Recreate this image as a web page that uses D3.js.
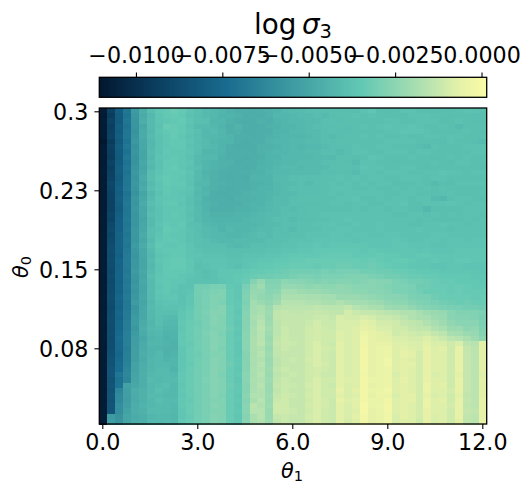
<!DOCTYPE html>
<html>
<head>
<meta charset="utf-8">
<script src="https://cdn.jsdelivr.net/npm/d3@7"></script>
<style>
body { margin: 0; background: #fff; }
text { font-family: "DejaVu Sans", sans-serif; fill: #000; }
.axis text { font-size: 22.2px; }
.axis path, .axis line { stroke: #000; stroke-width: 1.1; }
</style>
</head>
<body>
<div class="chart"></div>
<script>
var xTicks = [0, 3, 6, 9, 12];
var xLabels = ["0.0", "3.0", "6.0", "9.0", "12.0"];
var yTicks = [0.3, 0.225, 0.15, 0.075];
var yLabels = ["0.3", "0.23", "0.15", "0.08"];
var barTicks = [-0.01, -0.0075, -0.005, -0.0025, 0];
var barLabels = ["\u22120.0100", "\u22120.0075", "\u22120.0050", "\u22120.0025", "0.0000"];
var barDomain = [-0.01106, 0.00015];
var stopAt = [0, 0.15, 0.32, 0.5, 0.675, 0.83, 0.93, 1];
var stopColors = ["#02172f", "#0b3f60", "#186a8e", "#3e9ca2", "#62c8b4", "#aee0b0", "#e6f2a8", "#fbfba6"];

// log sigma_3, in units of 1e-4; top row first, theta_1 left to right
var sigmaRows = [
[-108,-93,-80,-70,-55,-47,-40,-36,-35,-33,-34,-37,-39,-41,-42,-43,-45,-46,-46,-47,-46,-45,-44,-42,-41,-41,-40,-40,-40,-39,-39,-40,-40,-38,-36,-39,-40,-39,-38,-38,-39,-39,-40,-39,-39,-39,-38,-38,-39],
[-109,-95,-81,-71,-56,-48,-42,-37,-35,-34,-35,-38,-40,-41,-42,-44,-44,-45,-47,-46,-47,-45,-43,-43,-42,-41,-41,-40,-41,-40,-39,-39,-38,-39,-38,-39,-39,-39,-40,-38,-38,-38,-39,-39,-40,-39,-39,-40,-39],
[-108,-92,-82,-70,-57,-47,-41,-37,-36,-35,-34,-37,-39,-40,-43,-43,-45,-46,-47,-47,-45,-46,-44,-43,-42,-42,-41,-41,-40,-39,-40,-39,-39,-39,-39,-39,-38,-38,-39,-39,-38,-38,-38,-40,-39,-38,-39,-40,-40],
[-109,-94,-80,-71,-57,-49,-41,-38,-33,-34,-35,-38,-41,-41,-42,-44,-46,-44,-46,-47,-47,-45,-45,-43,-43,-42,-41,-40,-40,-40,-39,-40,-39,-38,-39,-38,-37,-38,-38,-37,-38,-39,-39,-38,-39,-41,-39,-39,-39],
[-108,-93,-81,-70,-58,-48,-42,-37,-35,-34,-35,-37,-39,-42,-41,-43,-46,-45,-47,-47,-46,-46,-44,-44,-42,-42,-41,-41,-40,-39,-40,-40,-39,-39,-39,-39,-38,-38,-37,-37,-37,-38,-39,-39,-39,-39,-38,-39,-40],
[-109,-92,-80,-70,-57,-48,-41,-38,-36,-34,-36,-38,-40,-42,-42,-43,-44,-46,-46,-47,-46,-45,-44,-43,-43,-43,-42,-41,-40,-41,-40,-39,-39,-38,-39,-38,-39,-39,-38,-39,-39,-38,-38,-39,-38,-38,-39,-39,-39],
[-110,-95,-82,-71,-56,-49,-42,-38,-36,-35,-35,-37,-40,-41,-43,-44,-44,-46,-47,-46,-46,-44,-43,-43,-42,-42,-41,-41,-40,-40,-39,-39,-39,-39,-39,-39,-38,-38,-38,-38,-39,-39,-40,-40,-38,-39,-39,-40,-41],
[-109,-93,-80,-70,-58,-49,-42,-38,-36,-35,-35,-38,-40,-41,-42,-44,-46,-47,-47,-47,-45,-45,-44,-43,-42,-43,-42,-42,-41,-40,-40,-40,-38,-39,-39,-38,-38,-39,-39,-39,-40,-41,-38,-39,-39,-39,-38,-38,-38],
[-108,-94,-81,-72,-57,-50,-41,-38,-35,-36,-36,-37,-40,-43,-43,-44,-46,-46,-46,-47,-45,-44,-43,-43,-42,-42,-41,-41,-40,-40,-41,-40,-38,-38,-39,-39,-38,-38,-38,-39,-38,-38,-39,-39,-39,-39,-39,-38,-38],
[-109,-95,-82,-70,-58,-50,-42,-37,-36,-35,-36,-38,-41,-42,-42,-45,-46,-46,-47,-46,-46,-44,-44,-42,-42,-42,-42,-41,-41,-41,-39,-39,-40,-39,-37,-38,-39,-39,-39,-38,-39,-39,-40,-39,-38,-39,-38,-39,-39],
[-109,-92,-81,-71,-58,-49,-41,-38,-35,-35,-36,-37,-41,-43,-44,-45,-45,-47,-46,-46,-45,-44,-43,-42,-42,-41,-41,-41,-40,-40,-39,-40,-41,-38,-38,-39,-39,-40,-39,-39,-39,-39,-38,-39,-40,-38,-38,-39,-39],
[-108,-94,-80,-70,-57,-50,-42,-38,-35,-34,-36,-38,-40,-43,-44,-45,-46,-46,-47,-46,-44,-44,-42,-41,-41,-42,-41,-41,-41,-39,-39,-39,-40,-37,-38,-38,-39,-39,-38,-38,-39,-40,-39,-39,-39,-39,-39,-39,-40],
[-108,-93,-80,-71,-56,-49,-40,-37,-35,-35,-35,-37,-41,-44,-45,-46,-46,-46,-46,-45,-45,-43,-42,-42,-41,-41,-41,-41,-40,-40,-39,-40,-41,-38,-38,-39,-38,-38,-38,-39,-39,-38,-38,-37,-38,-38,-39,-38,-38],
[-109,-92,-81,-70,-57,-48,-40,-36,-34,-35,-36,-38,-41,-43,-45,-46,-47,-46,-47,-44,-44,-44,-41,-41,-40,-40,-40,-40,-39,-39,-38,-39,-38,-39,-38,-38,-39,-39,-38,-38,-38,-39,-38,-38,-39,-39,-39,-39,-39],
[-108,-90,-80,-70,-56,-49,-41,-37,-34,-35,-35,-38,-42,-42,-45,-45,-46,-46,-46,-45,-45,-44,-42,-41,-41,-40,-41,-39,-39,-38,-39,-38,-39,-38,-39,-38,-38,-40,-39,-39,-38,-39,-41,-39,-40,-38,-38,-38,-38],
[-109,-91,-79,-69,-57,-48,-40,-37,-35,-36,-36,-37,-41,-44,-45,-46,-47,-46,-46,-45,-44,-44,-42,-41,-40,-40,-40,-40,-39,-38,-38,-38,-39,-39,-38,-39,-39,-38,-39,-38,-39,-38,-39,-38,-39,-39,-39,-39,-39],
[-109,-92,-80,-71,-58,-50,-42,-38,-35,-36,-37,-38,-42,-43,-46,-47,-46,-46,-45,-44,-44,-43,-42,-41,-41,-40,-40,-40,-39,-38,-39,-38,-38,-38,-38,-38,-39,-39,-38,-38,-39,-39,-40,-39,-38,-39,-39,-39,-38],
[-108,-92,-79,-70,-56,-49,-41,-37,-36,-36,-36,-39,-41,-45,-46,-46,-47,-45,-45,-45,-44,-43,-41,-41,-40,-39,-39,-39,-39,-39,-38,-38,-37,-39,-39,-38,-39,-38,-38,-39,-38,-38,-41,-42,-39,-38,-38,-39,-39],
[-109,-93,-80,-69,-57,-48,-40,-37,-35,-35,-37,-39,-42,-44,-45,-46,-46,-46,-45,-44,-44,-42,-41,-41,-40,-40,-40,-40,-39,-38,-38,-39,-38,-38,-39,-39,-38,-38,-37,-39,-39,-38,-38,-38,-37,-38,-39,-38,-38],
[-109,-93,-81,-70,-56,-49,-41,-38,-36,-36,-36,-38,-41,-44,-46,-46,-46,-45,-45,-44,-43,-42,-41,-40,-41,-40,-39,-39,-39,-39,-39,-39,-38,-39,-38,-38,-39,-38,-38,-39,-40,-42,-39,-39,-39,-39,-38,-38,-38],
[-108,-91,-80,-70,-57,-49,-40,-38,-36,-35,-36,-39,-41,-43,-45,-45,-45,-44,-44,-43,-42,-41,-41,-40,-40,-40,-39,-39,-38,-38,-38,-38,-38,-38,-38,-38,-38,-39,-39,-38,-38,-39,-38,-39,-38,-39,-38,-38,-39],
[-108,-92,-79,-69,-57,-50,-41,-38,-36,-36,-36,-38,-41,-43,-44,-44,-44,-44,-43,-42,-42,-41,-40,-40,-41,-40,-40,-39,-39,-38,-38,-37,-38,-38,-38,-38,-38,-38,-38,-38,-39,-38,-39,-39,-39,-39,-38,-39,-38],
[-108,-90,-79,-70,-57,-49,-41,-37,-35,-36,-35,-39,-40,-42,-43,-44,-43,-43,-43,-43,-42,-41,-41,-40,-40,-39,-39,-38,-38,-37,-38,-38,-37,-38,-38,-37,-38,-38,-38,-39,-39,-38,-38,-37,-38,-38,-39,-38,-38],
[-109,-89,-79,-69,-56,-49,-40,-38,-34,-35,-36,-38,-40,-41,-42,-44,-42,-43,-43,-42,-41,-41,-40,-40,-41,-39,-39,-39,-38,-38,-37,-37,-38,-38,-38,-37,-38,-38,-38,-38,-37,-38,-38,-38,-39,-38,-38,-38,-38],
[-108,-90,-78,-70,-56,-48,-40,-37,-35,-36,-36,-38,-40,-41,-42,-42,-43,-43,-42,-41,-40,-41,-40,-40,-39,-39,-38,-38,-38,-37,-37,-38,-37,-37,-38,-38,-37,-37,-38,-38,-38,-38,-37,-37,-38,-38,-38,-38,-38],
[-108,-89,-78,-69,-56,-49,-41,-36,-35,-35,-36,-38,-39,-40,-41,-42,-42,-41,-41,-41,-41,-40,-40,-39,-38,-38,-38,-37,-37,-37,-37,-37,-38,-37,-37,-37,-37,-36,-37,-38,-38,-37,-37,-38,-37,-37,-38,-37,-37],
[-108,-88,-78,-70,-55,-48,-40,-35,-36,-36,-35,-37,-39,-40,-40,-40,-41,-42,-41,-40,-40,-40,-39,-38,-38,-37,-37,-36,-37,-36,-36,-36,-36,-36,-37,-37,-37,-36,-36,-37,-37,-37,-38,-38,-37,-37,-37,-37,-37],
[-108,-87,-78,-69,-56,-49,-41,-36,-35,-35,-35,-37,-38,-39,-39,-39,-40,-40,-40,-39,-39,-38,-38,-37,-37,-36,-36,-35,-35,-35,-35,-35,-35,-36,-35,-36,-36,-36,-36,-36,-37,-36,-37,-37,-37,-36,-36,-36,-36],
[-108,-88,-79,-68,-57,-49,-42,-37,-36,-35,-35,-37,-37,-38,-38,-38,-39,-39,-38,-38,-38,-37,-37,-36,-35,-35,-35,-35,-34,-34,-34,-34,-35,-35,-35,-34,-35,-35,-36,-36,-35,-35,-36,-36,-36,-36,-36,-36,-36],
[-108,-87,-77,-68,-56,-50,-41,-36,-35,-34,-34,-36,-38,-37,-37,-37,-38,-38,-37,-37,-36,-36,-35,-35,-34,-34,-33,-33,-33,-33,-33,-33,-33,-34,-33,-34,-35,-34,-34,-35,-36,-36,-35,-36,-36,-35,-35,-36,-36],
[-108,-88,-78,-68,-56,-50,-42,-37,-35,-34,-34,-36,-39,-38,-37,-37,-38,-39,-37,-36,-35,-35,-34,-34,-33,-33,-33,-34,-33,-33,-32,-32,-33,-33,-32,-33,-34,-35,-35,-36,-36,-36,-37,-37,-36,-36,-37,-37,-37],
[-108,-89,-77,-69,-55,-49,-41,-37,-35,-35,-35,-36,-38,-40,-38,-36,-36,-36,-35,-34,-34,-33,-33,-32,-31,-31,-31,-31,-30,-31,-30,-30,-30,-31,-31,-32,-32,-33,-33,-34,-35,-35,-35,-36,-36,-36,-36,-36,-37],
[-109,-88,-77,-68,-56,-50,-40,-36,-35,-35,-36,-37,-38,-39,-38,-36,-36,-35,-34,-33,-32,-32,-31,-31,-30,-29,-29,-30,-29,-29,-29,-28,-28,-28,-29,-30,-31,-31,-32,-33,-33,-34,-34,-35,-35,-35,-35,-36,-36],
[-109,-89,-78,-69,-57,-49,-41,-36,-35,-36,-36,-38,-38,-38,-38,-37,-36,-35,-33,-27,-23,-28,-28,-25,-26,-26,-27,-28,-27,-28,-27,-27,-28,-27,-26,-27,-27,-29,-30,-31,-31,-32,-33,-34,-34,-35,-35,-35,-36],
[-108,-88,-77,-68,-56,-50,-41,-37,-35,-36,-38,-38,-31,-31,-30,-30,-35,-36,-30,-24,-21,-27,-27,-23,-23,-24,-25,-24,-25,-25,-24,-25,-26,-26,-26,-27,-28,-29,-29,-30,-32,-32,-33,-33,-34,-33,-34,-35,-35],
[-109,-88,-78,-69,-57,-50,-41,-36,-35,-37,-38,-37,-31,-30,-29,-28,-34,-36,-29,-23,-23,-26,-25,-20,-20,-21,-22,-22,-23,-24,-24,-24,-25,-25,-26,-26,-27,-29,-29,-30,-31,-33,-33,-33,-34,-33,-34,-34,-34],
[-108,-87,-76,-68,-56,-49,-41,-37,-36,-36,-38,-36,-31,-30,-28,-28,-34,-36,-28,-22,-24,-25,-23,-18,-18,-18,-19,-19,-20,-20,-22,-22,-22,-23,-24,-25,-26,-26,-27,-29,-30,-30,-32,-33,-33,-33,-33,-34,-33],
[-108,-88,-77,-69,-55,-50,-42,-38,-37,-37,-38,-36,-31,-30,-28,-29,-34,-35,-29,-20,-22,-24,-21,-16,-16,-16,-17,-17,-18,-19,-17,-19,-20,-20,-21,-22,-24,-25,-25,-27,-28,-29,-30,-31,-32,-33,-32,-33,-33],
[-109,-89,-78,-69,-57,-49,-41,-39,-38,-38,-37,-35,-31,-30,-28,-27,-33,-35,-28,-20,-18,-22,-16,-15,-15,-15,-15,-14,-15,-15,-15,-13,-16,-17,-18,-19,-21,-22,-22,-24,-26,-27,-28,-29,-30,-30,-31,-31,-32],
[-108,-88,-76,-68,-56,-49,-42,-39,-39,-40,-36,-34,-31,-29,-27,-27,-33,-36,-27,-20,-18,-21,-14,-13,-14,-14,-13,-13,-13,-14,-14,-10,-12,-13,-13,-14,-15,-16,-17,-17,-19,-21,-22,-23,-26,-28,-28,-28,-29],
[-108,-87,-77,-68,-55,-49,-42,-40,-41,-41,-36,-34,-31,-30,-27,-28,-33,-35,-27,-19,-17,-22,-14,-13,-13,-13,-13,-12,-12,-13,-9,-10,-10,-9,-10,-12,-12,-13,-15,-17,-18,-19,-21,-22,-26,-27,-27,-28,-30],
[-108,-87,-76,-67,-55,-48,-43,-40,-42,-42,-35,-33,-32,-30,-27,-28,-33,-36,-27,-20,-16,-21,-15,-13,-13,-13,-12,-10,-12,-12,-9,-9,-9,-7,-8,-10,-10,-11,-13,-14,-15,-17,-19,-21,-24,-26,-26,-26,-29],
[-109,-88,-76,-67,-56,-47,-42,-41,-43,-43,-36,-33,-31,-30,-28,-28,-32,-35,-27,-19,-15,-20,-15,-12,-13,-13,-11,-10,-11,-12,-9,-9,-8,-6,-7,-9,-9,-11,-11,-13,-14,-14,-17,-18,-22,-22,-25,-24,-28],
[-108,-87,-75,-66,-55,-48,-43,-42,-44,-44,-35,-33,-31,-29,-27,-29,-33,-36,-26,-19,-16,-21,-15,-12,-13,-13,-11,-10,-11,-11,-8,-9,-8,-4,-6,-7,-8,-11,-10,-11,-12,-11,-13,-15,-19,-20,-22,-23,-27],
[-108,-88,-74,-66,-54,-49,-44,-43,-45,-44,-35,-33,-31,-30,-27,-28,-33,-35,-26,-18,-16,-22,-14,-12,-13,-13,-11,-10,-11,-11,-8,-9,-8,-3,-6,-7,-7,-9,-9,-10,-10,-8,-10,-12,-15,-16,-18,-21,-25],
[-109,-87,-75,-66,-54,-48,-43,-43,-44,-45,-35,-34,-31,-30,-27,-28,-33,-36,-26,-18,-15,-21,-13,-12,-12,-13,-11,-9,-11,-12,-7,-9,-8,-3,-6,-6,-6,-8,-8,-9,-9,-7,-9,-9,-11,-9,-15,-16,-7],
[-109,-87,-75,-67,-53,-48,-44,-44,-45,-45,-36,-33,-31,-30,-27,-29,-33,-36,-26,-18,-17,-22,-14,-12,-13,-13,-11,-9,-10,-11,-7,-9,-8,-2,-6,-5,-4,-8,-7,-8,-9,-6,-8,-7,-11,-6,-13,-15,-7],
[-108,-86,-76,-66,-53,-47,-44,-42,-45,-44,-36,-33,-32,-30,-28,-28,-33,-36,-27,-19,-16,-21,-14,-13,-13,-13,-11,-9,-11,-12,-7,-9,-8,-2,-6,-5,-4,-8,-6,-7,-10,-6,-8,-8,-11,-6,-13,-15,-7],
[-109,-85,-75,-66,-53,-48,-43,-42,-44,-43,-36,-33,-31,-30,-27,-28,-33,-35,-27,-18,-17,-22,-15,-13,-12,-13,-10,-9,-11,-12,-7,-9,-8,-2,-6,-5,-3,-8,-7,-8,-10,-6,-8,-8,-11,-6,-13,-15,-7],
[-108,-85,-74,-65,-52,-47,-43,-42,-42,-43,-36,-34,-31,-30,-27,-28,-32,-35,-27,-19,-16,-22,-15,-13,-13,-13,-11,-9,-10,-12,-7,-9,-8,-2,-6,-5,-3,-8,-7,-7,-10,-6,-8,-8,-11,-6,-13,-15,-7],
[-109,-84,-74,-64,-52,-47,-43,-41,-41,-44,-36,-33,-31,-30,-27,-28,-33,-36,-27,-18,-17,-21,-14,-12,-13,-13,-11,-10,-11,-12,-7,-9,-8,-2,-6,-5,-4,-8,-7,-8,-10,-6,-8,-8,-11,-6,-13,-15,-7],
[-108,-84,-70,-63,-51,-46,-42,-41,-41,-42,-35,-33,-31,-30,-27,-29,-33,-35,-26,-19,-16,-22,-15,-13,-12,-13,-11,-10,-12,-12,-7,-9,-8,-3,-6,-5,-4,-9,-7,-8,-10,-6,-9,-8,-11,-7,-13,-15,-8],
[-109,-85,-72,-64,-50,-46,-41,-42,-41,-41,-35,-33,-31,-29,-27,-28,-33,-36,-26,-18,-17,-21,-14,-12,-13,-13,-11,-9,-11,-11,-7,-8,-8,-2,-5,-5,-4,-8,-6,-8,-10,-6,-8,-8,-11,-6,-13,-15,-7],
[-108,-84,-71,-52,-49,-46,-42,-41,-40,-42,-36,-33,-31,-30,-27,-28,-32,-35,-27,-19,-16,-22,-13,-12,-12,-13,-10,-9,-11,-12,-7,-9,-8,-2,-6,-5,-4,-8,-7,-8,-10,-5,-8,-7,-11,-6,-13,-15,-7],
[-109,-85,-64,-53,-47,-45,-42,-40,-41,-42,-35,-33,-31,-30,-27,-28,-33,-35,-27,-18,-17,-22,-14,-12,-13,-13,-11,-9,-11,-11,-6,-9,-7,-2,-5,-4,-3,-8,-7,-8,-10,-5,-8,-8,-10,-6,-13,-15,-7],
[-108,-84,-62,-53,-48,-45,-41,-41,-42,-42,-36,-33,-31,-30,-27,-29,-33,-36,-26,-17,-17,-21,-13,-11,-12,-13,-10,-9,-11,-11,-7,-9,-8,-2,-6,-4,-4,-9,-7,-7,-10,-6,-9,-8,-11,-7,-14,-15,-7],
[-109,-85,-62,-54,-48,-45,-42,-40,-41,-41,-35,-34,-31,-30,-28,-28,-33,-35,-27,-19,-16,-22,-12,-11,-13,-13,-11,-9,-10,-12,-6,-8,-7,-2,-5,-5,-3,-8,-7,-7,-10,-5,-8,-7,-11,-6,-13,-15,-6],
[-108,-84,-60,-53,-47,-44,-42,-41,-41,-42,-35,-33,-31,-30,-27,-28,-33,-36,-26,-15,-17,-21,-11,-11,-13,-13,-10,-9,-10,-12,-7,-9,-7,-1,-5,-4,-2,-8,-7,-8,-10,-5,-8,-8,-10,-6,-14,-15,-6],
[-108,-84,-60,-52,-47,-45,-41,-41,-41,-42,-36,-33,-31,-30,-28,-28,-33,-35,-26,-16,-16,-22,-11,-11,-12,-13,-11,-9,-11,-12,-7,-9,-8,-1,-6,-5,-2,-8,-7,-8,-10,-6,-8,-8,-11,-6,-13,-14,-6],
[-108,-55,-58,-50,-48,-46,-43,-42,-42,-43,-36,-34,-31,-30,-27,-28,-33,-36,-27,-19,-16,-22,-13,-12,-13,-13,-10,-9,-11,-12,-7,-9,-7,-2,-6,-5,-3,-9,-7,-8,-10,-6,-9,-8,-11,-6,-14,-15,-6],
[-108,-54,-57,-50,-47,-46,-42,-42,-41,-42,-35,-33,-31,-30,-27,-28,-33,-35,-26,-18,-17,-21,-14,-12,-13,-13,-11,-9,-11,-12,-7,-10,-8,-2,-6,-5,-3,-9,-8,-8,-11,-6,-9,-8,-11,-7,-14,-15,-6]
];

var width = 529, height = 493;
var plot = {left: 99.3, right: 486.7, top: 108, bottom: 424};
var bar = {top: 77.3, bottom: 97.3};

var svg = d3.select(".chart").append("svg")
    .attr("width", width)
    .attr("height", height)
    .style("display", "block");

var color = d3.scaleLinear()
    .domain(stopAt.map(function(t) { return barDomain[0] + t * (barDomain[1] - barDomain[0]); }))
    .range(stopColors);

var col = d3.scaleBand().domain(d3.range(sigmaRows[0].length)).range([plot.left, plot.right]);
var row = d3.scaleBand().domain(d3.range(sigmaRows.length)).range([plot.top, plot.bottom]);

var x = d3.scaleLinear().domain([0, 12]).range([102.3, 482.3]);
var y = d3.scaleLinear().domain([0.3, 0.075]).range([111.3, 348.3]);
var barX = d3.scaleLinear().domain(barDomain).range([plot.left, plot.right]);

// heatmap
sigmaRows.forEach(function(values, r) {
    svg.append("g").selectAll("rect")
        .data(values)
        .enter().append("rect")
        .attr("x", function(d, c) { return col(c); })
        .attr("y", row(r))
        .attr("width", col.bandwidth() + 0.6)
        .attr("height", row.bandwidth() + 0.6)
        .attr("shape-rendering", "crispEdges")
        .attr("fill", function(d) { return color(d * 1e-4); });
});

// colorbar
var barSteps = d3.range(0, 388).map(function(i) { return barDomain[0] + (barDomain[1] - barDomain[0]) * i / 388; });
svg.append("g").selectAll("rect")
    .data(barSteps)
    .enter().append("rect")
    .attr("x", function(d) { return barX(d); })
    .attr("y", bar.top)
    .attr("width", 1.5)
    .attr("height", bar.bottom - bar.top)
    .attr("shape-rendering", "crispEdges")
    .attr("fill", function(d) { return color(d); });

function frame(top, bottom) {
    svg.append("rect")
        .attr("x", plot.left)
        .attr("y", top)
        .attr("width", plot.right - plot.left)
        .attr("height", bottom - top)
        .attr("fill", "none")
        .attr("stroke", "#000")
        .attr("stroke-width", 1.3);
}
frame(plot.top, plot.bottom);
frame(bar.top, bar.bottom);

var xAxis = d3.axisBottom(x).tickValues(xTicks).tickSize(4.9).tickPadding(5.3)
    .tickFormat(function(d, i) { return xLabels[i]; });
var yAxis = d3.axisLeft(y).tickValues(yTicks).tickSize(4.9).tickPadding(6)
    .tickFormat(function(d, i) { return yLabels[i]; });
var topAxis = d3.axisTop(barX).tickValues(barTicks).tickSize(4.9).tickPadding(9)
    .tickFormat(function(d, i) { return barLabels[i]; });

svg.append("g").attr("class", "x axis")
    .attr("transform", "translate(0," + plot.bottom + ")")
    .call(xAxis);
svg.append("g").attr("class", "y axis")
    .attr("transform", "translate(" + plot.left + ",0)")
    .call(yAxis);
svg.append("g").attr("class", "bar axis")
    .attr("transform", "translate(0," + bar.top + ")")
    .call(topAxis);
svg.selectAll(".axis path").remove();
svg.selectAll(".axis text").attr("font-family", "DejaVu Sans");
svg.selectAll(".y.axis text").attr("dy", "0.36em");

// title and labels, sigma and theta are oblique like mathtext
function mathLabel(g, size, letter, sub) {
    g.append("tspan").attr("font-style", "oblique").attr("font-size", size).text(letter);
    g.append("tspan").attr("font-size", size * 0.7).attr("dy", size * 0.15).text(sub);
}

var title = svg.append("text")
    .attr("x", 293)
    .attr("y", 34)
    .attr("text-anchor", "middle")
    .attr("font-size", 27.8);
title.append("tspan").text("log\u2009");
mathLabel(title, 27.8, "\u03c3", "3");

var xLabel = svg.append("text")
    .attr("x", 292)
    .attr("y", 478)
    .attr("text-anchor", "middle");
mathLabel(xLabel, 20.83, "\u03b8", "1");

var yLabel = svg.append("text")
    .attr("transform", "translate(28,267) rotate(-90)")
    .attr("text-anchor", "middle");
mathLabel(yLabel, 20.83, "\u03b8", "0");
</script>
</body>
</html>
